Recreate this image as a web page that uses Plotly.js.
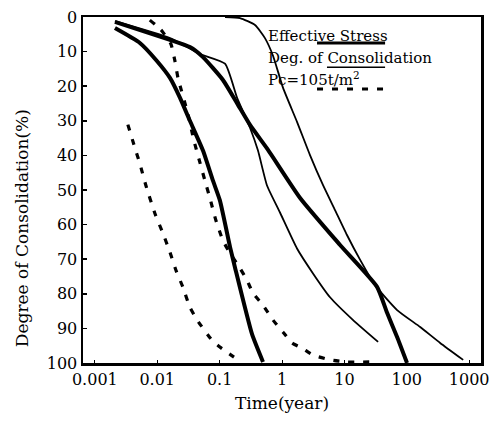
<!DOCTYPE html>
<html>
<head>
<meta charset="utf-8">
<script src="https://cdn.plot.ly/plotly-3.0.1.min.js"></script>
<style>html,body{margin:0;padding:0;background:#fff;}#chart{width:498px;height:425px;}</style>
</head>
<body>
<div id="chart"></div>
<script>
// Thick solid curves (Effective Stress)
const effA_time = [0.0021, 0.00527, 0.00988, 0.016, 0.0231, 0.0334, 0.0541, 0.0782, 0.101, 0.147, 0.176, 0.330, 0.496];
const effA_deg  = [3.2, 7.5, 12.7, 17.6, 23.3, 30.0, 38.6, 47.3, 53.0, 66.5, 72.3, 91.6, 99.7];
const effB_time = [0.0021, 0.016, 0.0334, 0.0541, 0.113, 0.19, 0.307, 0.597, 1.95, 8.53, 33.4, 48.4, 70.0, 101];
const effB_deg  = [1.4, 6.6, 8.7, 11.6, 18.2, 24.9, 31.2, 38.4, 52.3, 65.9, 78.0, 85.5, 92.5, 100];
// Thin solid curves (Degree of Consolidation)
const degC_time = [0.0021, 0.016, 0.0484, 0.122, 0.19, 0.307, 0.412, 0.575, 0.929, 1.74, 3.14, 5.89, 13.8, 34.7];
const degC_deg  = [1.2, 6.1, 10.7, 13.5, 23.3, 32.0, 38.6, 48.7, 56.5, 66.9, 74.1, 81.0, 87.6, 93.9];
const degD_time = [0.122, 0.212, 0.369, 0.533, 0.718, 1.04, 1.74, 2.81, 4.55, 7.08, 11.0, 17.9, 31.0, 70.0, 164, 343, 802];
const degD_deg  = [0, 0.3, 2.3, 6.1, 11.2, 20.5, 30.3, 39.9, 48.6, 55.8, 63.0, 70.2, 77.5, 84.7, 89.6, 94.2, 99.1];
// Dashed curves (Pc = 105 t/m2)
const pcE_time = [0.0076, 0.01146, 0.01656, 0.0192, 0.0215, 0.031, 0.0387, 0.0484, 0.0582, 0.07, 0.0873, 0.113, 0.147, 0.212, 0.275, 0.343, 0.496, 0.718, 1.04, 1.45, 2.09, 3.14, 5.89, 11.0, 25.8];
const pcE_deg  = [0.9, 3.7, 7.8, 12.7, 17.6, 28.0, 35.7, 42.1, 47.3, 52.4, 58.8, 64.6, 68.3, 72.6, 76.1, 79.8, 83.3, 87.6, 91.1, 94.2, 95.7, 97.7, 99.1, 99.7, 99.7];
const pcF_time = [0.00338, 0.00438, 0.00527, 0.00658, 0.00918, 0.01234, 0.016, 0.01995, 0.0258, 0.0334, 0.0449, 0.0753, 0.101, 0.17];
const pcF_deg  = [31.1, 37.8, 42.4, 48.7, 56.8, 62.5, 68.0, 73.2, 78.1, 83.9, 87.9, 93.4, 95.4, 98.3];
// Axis ticks and texts
const xTickVals = [0.001, 0.01, 0.1, 1, 10, 100, 1000];
const xTickText = ['0.001', '0.01', '0.1', '1', '10', '100', '1000'];
const yTickVals = [0, 10, 20, 30, 40, 50, 60, 70, 80, 90, 100];
const legendLabels = ['Effective Stress', 'Deg. of Consolidation', 'Pc=105t/m<sup>2</sup>'];
const xTitle = 'Time(year)';
const yTitle = 'Degree of Consolidation(%)';

const thick = {color: '#000', width: 4};
const thin = {color: '#000', width: 1.8};
const dashed = {color: '#000', width: 3.2, dash: '6px,9px'};

const traces = [
  {x: effA_time, y: effA_deg, line: thick, name: legendLabels[0]},
  {x: effB_time, y: effB_deg, line: thick, name: legendLabels[0]},
  {x: degC_time, y: degC_deg, line: thin, name: legendLabels[1]},
  {x: degD_time, y: degD_deg, line: thin, name: legendLabels[1]},
  {x: pcE_time, y: pcE_deg, line: dashed, name: legendLabels[2]},
  {x: pcF_time, y: pcF_deg, line: dashed, name: legendLabels[2]}
].map(t => Object.assign(t, {mode: 'lines', showlegend: false, hoverinfo: 'none', line: Object.assign({}, t.line, {shape: 'spline', smoothing: 0.5})}));

const font = {family: 'DejaVu Serif, serif', color: '#000'};
const f = s => Object.assign({}, font, {size: s});

const layout = {
  width: 498, height: 425,
  margin: {l: 83, r: 17, t: 17, b: 62},
  paper_bgcolor: '#fff', plot_bgcolor: '#fff',
  font: f(15),
  showlegend: false,
  xaxis: {
    type: 'log', range: [-3.19, 3.19],
    tickvals: xTickVals, ticktext: xTickText,
    showgrid: false, zeroline: false,
    showline: true, mirror: true, linecolor: '#000', linewidth: 2.5,
    ticks: 'inside', ticklen: 3, tickcolor: '#000', tickwidth: 1,
    tickfont: f(16),
    title: {text: xTitle, font: f(17), standoff: 10}
  },
  yaxis: {
    range: [100, 0],
    tickvals: yTickVals,
    showgrid: false, zeroline: false,
    showline: true, mirror: true, linecolor: '#000', linewidth: 2.5,
    ticks: 'inside', ticklen: 4, tickcolor: '#000', tickwidth: 1.5,
    tickfont: f(16)
  },
  annotations: [
    {text: yTitle, textangle: -90, xref: 'paper', yref: 'paper', x: -0.153, y: 0.39, xanchor: 'center', yanchor: 'middle', showarrow: false, font: f(17)},
    {text: legendLabels[0], xref: 'paper', yref: 'paper', x: 0.46, y: 0.945, xanchor: 'left', yanchor: 'middle', showarrow: false, font: f(15)},
    {text: legendLabels[1], xref: 'paper', yref: 'paper', x: 0.46, y: 0.881, xanchor: 'left', yanchor: 'middle', showarrow: false, font: f(15)},
    {text: legendLabels[2], xref: 'paper', yref: 'paper', x: 0.46, y: 0.821, xanchor: 'left', yanchor: 'middle', showarrow: false, font: f(15)}
  ],
  shapes: [
    {type: 'line', xref: 'paper', yref: 'paper', x0: 0.588, x1: 0.759, y0: 0.925, y1: 0.925, line: {color: '#000', width: 3}},
    {type: 'line', xref: 'paper', yref: 'paper', x0: 0.613, x1: 0.759, y0: 0.855, y1: 0.855, line: {color: '#000', width: 1.5}},
    {type: 'line', xref: 'paper', yref: 'paper', x0: 0.588, x1: 0.759, y0: 0.792, y1: 0.792, line: {color: '#000', width: 3, dash: '6px,9px'}}
  ]
};

Plotly.newPlot('chart', traces, layout, {staticPlot: true, displayModeBar: false});
</script>
</body>
</html>
